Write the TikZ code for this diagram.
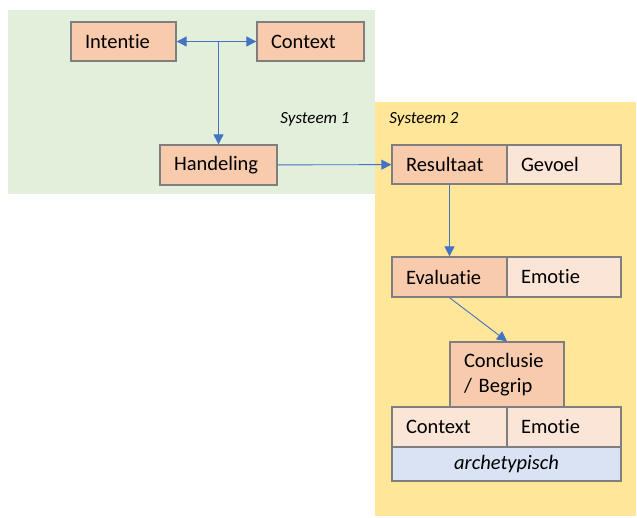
\documentclass[tikz,border=0pt]{standalone}
\usepackage{fontspec}
\setmainfont{Carlito}[Ligatures={NoCommon,NoRequired,NoContextual}]
\usepackage{xcolor}
\usepackage{tikz}
\usetikzlibrary{arrows.meta,positioning,calc}
\definecolor{sysgreen}{HTML}{E2EFDA}
\definecolor{sysyellow}{HTML}{FFE699}
\definecolor{boxdark}{HTML}{F8CBAD}
\definecolor{boxlight}{HTML}{FBE5D6}
\definecolor{boxblue}{HTML}{DAE3F3}
\definecolor{boxline}{HTML}{7F7F7F}
\definecolor{arrowblue}{HTML}{4472C4}

\begin{document}
\begin{tikzpicture}[x=1pt, y=-1pt,
  arr/.style = {-{Triangle[length=10pt,width=10pt]}, line width=0.9pt, arrowblue},
  dblarr/.style = {{Triangle[length=10pt,width=10pt]}-{Triangle[length=10pt,width=10pt]}, line width=0.9pt, arrowblue},
  basebox/.style = {draw=boxline, line width=1.3pt, rectangle, inner xsep=14pt,
                    inner ysep=0pt, align=left, font=\fontsize{20.5}{25}\selectfont},
  darkbox/.style = {basebox, fill=boxdark},
  lightbox/.style = {basebox, fill=boxlight},
  archbox/.style = {draw=boxline, line width=1.3pt, fill=boxblue, inner sep=0pt,
                    align=center, font=\fontsize{20.5}{24}\selectfont\itshape},
  syslabel/.style = {font=\fontsize{17}{20}\selectfont\itshape},
]
\useasboundingbox (0,0) rectangle (637,517);

% Systems
\fill[sysgreen] (8,10) rectangle (374.5,194);
\fill[sysyellow] (374.5,102) rectangle (636,516);
\node[syslabel] (sys1) at (315,119) {Systeem 1};
\node[syslabel] (sys2) at (424,119) {Systeem 2};

% Systeem 1
\node[darkbox, text width=77pt, minimum height=39pt] (intentie) at (123.5,41.5) {Intentie};
\node[darkbox, text width=79pt, minimum height=39pt] (context) at (310.5,41.5) {Context};
\node[darkbox, text width=89pt, minimum height=40pt] (handeling) at (218.5,165) {Handeling};

% Systeem 2
\node[darkbox, text width=87pt, minimum height=39pt] (resultaat) at (449.5,164.5) {Resultaat};
\node[lightbox, text width=86pt, minimum height=39pt] (gevoel) at (564,164.5) {Gevoel};
\node[darkbox, text width=87pt, minimum height=40pt] (evaluatie) at (449.5,277) {Evaluatie};
\node[lightbox, text width=86pt, minimum height=40pt] (emotie) at (564,277) {Emotie};
\node[darkbox, text width=86pt, minimum height=65pt] (conclusie) at (507,374.5) {Conclusie\\/ Begrip};
\node[lightbox, text width=87pt, minimum height=40pt] (context2) at (449.5,427) {Context};
\node[lightbox, text width=86pt, minimum height=40pt] (emotie2) at (564,427) {Emotie};
\node[archbox, minimum width=229pt, minimum height=34pt] (arch) at (506.5,464) {archetypisch};

% Arrows
\coordinate (junc) at (handeling.north |- intentie.east);
\draw[dblarr] (intentie) -- (context);
\draw[arr] (junc) -- (handeling);
\draw[arr] (handeling) -- (resultaat);
\draw[arr] (resultaat) -- (evaluatie);
\draw[arr] (evaluatie.south) -- (conclusie.north);
\end{tikzpicture}
\end{document}
